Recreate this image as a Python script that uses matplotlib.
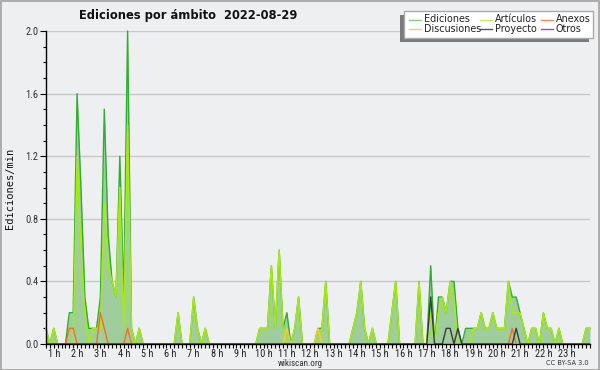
import numpy as np
import matplotlib
matplotlib.use("Agg")
import matplotlib.pyplot as plt
from matplotlib.lines import Line2D
from matplotlib.patches import Rectangle
from matplotlib import font_manager

# ---------------- data (edits per minute, 10-minute bins from 00:40) ----------------
start_hour = 40 / 60.0
step_hour = 10 / 60.0

ediciones = [
    0.1, 0, 0.1, 0, 0, 0, 0.2, 0.2, 1.6, 1.0,
    0.3, 0.1, 0.1, 0.1, 0.3, 1.5, 0.7, 0.4, 0.3, 1.2,
    0.3, 2.0, 0.1, 0, 0.1, 0, 0, 0, 0, 0,
    0, 0, 0, 0, 0.2, 0, 0, 0, 0.3, 0.1,
    0, 0.1, 0, 0, 0, 0, 0, 0, 0, 0,
    0, 0, 0, 0, 0, 0.1, 0.1, 0.1, 0.5, 0.1,
    0.6, 0.1, 0.2, 0, 0.1, 0.3, 0, 0, 0, 0,
    0.1, 0.1, 0.4, 0, 0, 0, 0, 0, 0, 0.1,
    0.2, 0.4, 0.1, 0, 0.1, 0, 0, 0, 0, 0.2,
    0.4, 0, 0, 0, 0, 0, 0.4, 0, 0, 0.5,
    0, 0.3, 0.3, 0.2, 0.4, 0.4, 0.1, 0, 0.1, 0.1,
    0.1, 0.1, 0.2, 0.1, 0.1, 0.2, 0.1, 0.1, 0.1, 0.4,
    0.3, 0.3, 0.2, 0.1, 0, 0.1, 0.1, 0, 0.2, 0.1,
    0.1, 0, 0.1, 0, 0, 0, 0, 0, 0, 0.1,
    0.1,
]

articulos = [
    0.1, 0, 0.1, 0, 0, 0, 0, 0, 1.2, 0.6,
    0.2, 0, 0.1, 0.1, 0.1, 0.9, 0.5, 0.4, 0.3, 1.0,
    0.1, 1.4, 0.1, 0, 0.1, 0, 0, 0, 0, 0,
    0, 0, 0, 0, 0.2, 0, 0, 0, 0.3, 0.1,
    0, 0.1, 0, 0, 0, 0, 0, 0, 0, 0,
    0, 0, 0, 0, 0, 0.1, 0.1, 0.1, 0.5, 0.1,
    0.6, 0.1, 0, 0, 0.1, 0.3, 0, 0, 0, 0,
    0, 0.1, 0.4, 0, 0, 0, 0, 0, 0, 0.1,
    0.2, 0.4, 0.1, 0, 0.1, 0, 0, 0, 0, 0.2,
    0.4, 0, 0, 0, 0, 0, 0.4, 0, 0, 0.2,
    0, 0.2, 0.3, 0.2, 0.4, 0.3, 0, 0, 0, 0,
    0.1, 0.1, 0.2, 0.1, 0.1, 0.2, 0.1, 0.1, 0.1, 0.4,
    0.2, 0.2, 0.2, 0.1, 0, 0.1, 0.1, 0, 0.2, 0.1,
    0.1, 0, 0.1, 0, 0, 0, 0, 0, 0, 0.1,
    0.1,
]

# sparse series: bin index -> value
anexos_idx = [6, 7, 14, 15, 21, 120]
anexos_val = [0.1, 0.1, 0.2, 0.1, 0.1, 0.1]
discusiones_idx = [62, 70]
discusiones_val = [0.1, 0.1]
proyecto_idx = [99, 103, 104, 106, 121]
proyecto_val = [0.3, 0.1, 0.1, 0.1, 0.1]
otros_idx = []
otros_val = []

hour_ticks = list(range(1, 24))
hour_labels = [f"{h} h" for h in hour_ticks]
y_major = [0.0, 0.4, 0.8, 1.2, 1.6, 2.0]

title = "Ediciones por ámbito  2022-08-29"
ylabel = "Ediciones/min"
legend_names = ["Ediciones", "Artículos", "Anexos", "Discusiones", "Proyecto", "Otros"]

# ---------------- fonts ----------------
available = {f.name for f in font_manager.fontManager.ttflist}
narrow = "DejaVu Sans"
for cand in ["DejaVu Sans Condensed", "Liberation Sans Narrow", "Roboto Condensed"]:
    if cand in available:
        narrow = cand
        break
narrow_small = 7.5 if narrow != "DejaVu Sans" else 6.9

# ---------------- build ----------------
n = len(ediciones)
t = start_hour + step_hour * np.arange(n)

def full(idx, val):
    a = np.zeros(n)
    a[np.array(idx, dtype=int)] = val
    return a

ed = np.array(ediciones)
art = np.array(articulos)
anx = full(anexos_idx, anexos_val)
dis = full(discusiones_idx, discusiones_val)
pro = full(proyecto_idx, proyecto_val)
otr = full(otros_idx, otros_val)

W, H = 600, 370
BG = "#eeeff0"
fig = plt.figure(figsize=(W / 100, H / 100), dpi=100, facecolor=BG)

def fx(x):
    return x / W

def fy(y):
    return 1 - y / H

# outer border
fig.patches.append(Rectangle((0.5 / W, 0.5 / H), 1 - 1.5 / W, 1 - 1.5 / H,
                             transform=fig.transFigure, fill=False,
                             edgecolor="#a0a0a0", lw=1.2, zorder=0))

L, R, T, B = 46, 590, 31, 344
ax = fig.add_axes([fx(L), fy(B), (R - L) / W, (B - T) / H])
ax.set_facecolor(BG)

c_ed_line = "#2fae2f"
c_ed_fill = "#9fce9c"
c_art = "#a6ea10"
c_anx = "#ff6a1f"
c_dis = "#ffcc22"
c_pro = "#3a3a3a"
c_otr = "#9933ee"

for yv in y_major[1:]:
    ax.axhline(yv, color="#c8c8c8", lw=1.0, zorder=0.5)

ax.fill_between(t, 0, ed, color=c_ed_fill, lw=0, zorder=1)
ax.plot(t, ed, color=c_ed_line, lw=1.0, zorder=2, clip_on=False)
ax.plot(t, art, color=c_art, lw=1.1, zorder=2.1, clip_on=False)
ax.plot(t, anx, color=c_anx, lw=1.0, zorder=2.2)
ax.plot(t, dis, color=c_dis, lw=1.0, zorder=2.2)
ax.plot(t, pro, color=c_pro, lw=1.0, zorder=2.3)
ax.plot(t, otr, color=c_otr, lw=1.0, zorder=2.0)

ax.set_xlim(t[0], t[-1])
ax.set_ylim(0, 2.0)

for s in ["top", "right"]:
    ax.spines[s].set_visible(False)
for s in ["left", "bottom"]:
    ax.spines[s].set_color("black")
    ax.spines[s].set_linewidth(1.0)
    ax.spines[s].set_zorder(3)

ax.set_xticks(hour_ticks)
ax.set_xticklabels(hour_labels, fontsize=narrow_small, color="#222222", family=narrow)
ax.set_xticks(t, minor=True)
ax.tick_params(axis="x", which="both", direction="out", length=3.2, width=0.8, pad=0.6)
ax.set_yticks(y_major)
ax.set_yticklabels([f"{v:.1f}" for v in y_major], fontsize=narrow_small, color="#333333",
                   family=narrow)
ax.set_yticks(np.round(np.arange(0, 2.01, 0.1), 2), minor=True)
ax.tick_params(axis="y", which="major", direction="out", length=4.5, width=0.8, pad=1.0)
ax.tick_params(axis="y", which="minor", direction="out", length=2.5, width=0.8)

fig.text(fx(10), fy(188), ylabel, rotation=90, ha="center", va="center",
         fontsize=7.5, family="DejaVu Sans Mono", color="#111111")

fig.text(fx(188), fy(15), title, ha="center", va="center", fontsize=8.3,
         fontweight="bold", family="DejaVu Sans", color="#111111")

fig.text(fx(300), fy(364), "wikiscan.org", ha="center", va="center",
         fontsize=6.5, color="#333333", family=narrow)
fig.text(fx(589), fy(363), "CC BY-SA 3.0", ha="right", va="center",
         fontsize=4.8, color="#333333")

# legend (shadow + box)
lx0, ly0, lx1, ly1 = 404, 11, 593, 38
fig.patches.append(Rectangle((fx(lx0 - 4), fy(ly1 + 4)), (lx1 - lx0) / W, (ly1 - ly0) / H,
                             transform=fig.transFigure, facecolor="#7a7a7a",
                             edgecolor="none", zorder=5))
fig.patches.append(Rectangle((fx(lx0), fy(ly1)), (lx1 - lx0) / W, (ly1 - ly0) / H,
                             transform=fig.transFigure, facecolor="white",
                             edgecolor="#aaaaaa", lw=1.0, zorder=6))
leg_colors = ["#88cc88", "#ccee55", "#ff8855", "#ffcc44", "#555555", "#9944ee"]
col_x = [409, 480, 541]
row_y = [20, 29]
for k, (name, col) in enumerate(zip(legend_names, leg_colors)):
    r = k // 3
    c = k % 3
    x0 = col_x[c]
    y0 = row_y[r]
    fig.lines.append(Line2D([fx(x0), fx(x0 + 12)], [fy(y0), fy(y0)],
                            transform=fig.transFigure, color=col, lw=1.0, zorder=7))
    fig.text(fx(x0 + 15), fy(y0 - 0.5), name, ha="left", va="center", fontsize=6.9,
             color="#222222", zorder=7)

fig.savefig("out.png", dpi=100, facecolor=BG)
